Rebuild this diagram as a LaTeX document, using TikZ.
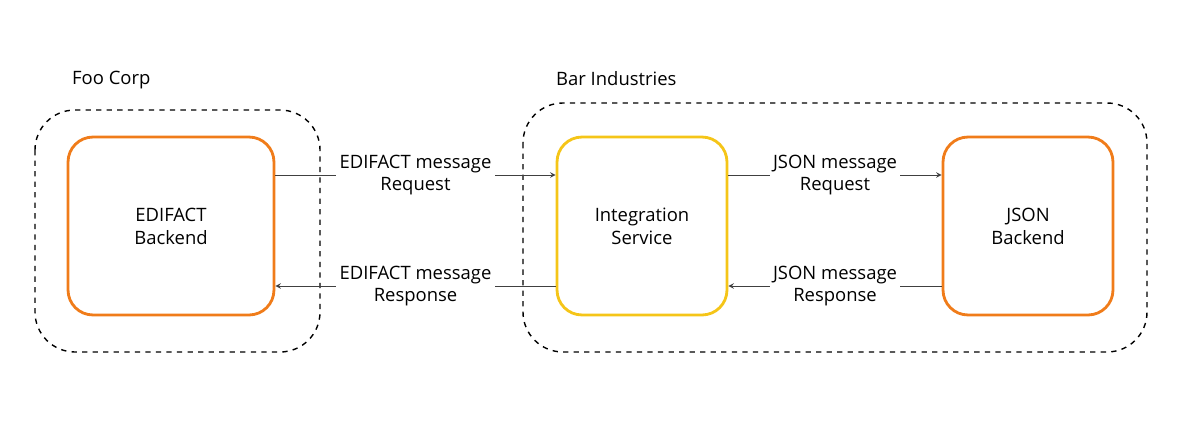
\documentclass[tikz,border=0pt]{standalone}
\usepackage{fontspec}
\setmainfont{Open Sans}
\usetikzlibrary{positioning}
\definecolor{orng}{HTML}{F07C1A}
\definecolor{yllw}{HTML}{F5C518}
\tikzset{
  zone/.style={draw, dashed, thick, rounded corners=0.8cm},
  system/.style={draw=#1, line width=1.6pt, rounded corners=0.5cm, align=center, minimum width=3.4cm, minimum height=3.56cm},
  msg/.style={fill=white, align=center, inner sep=2pt, font=\fontsize{10.5}{13}\selectfont},
  flow/.style={->, >=stealth, draw=black!75}
}
\begin{document}
\begin{tikzpicture}[x=0.02cm,y=-0.02cm, font=\fontsize{10.5}{13}\selectfont]
                \useasboundingbox (0,0) rectangle (1200,440);
                \draw[zone] (35,110) rectangle (320,352);
                \draw[zone] (523,103) rectangle (1147,352);
                \node[anchor=west] (foo) at (66,80) {Foo Corp};
                \node[anchor=west] (bar) at (550,79) {Bar Industries};
                \node[system=orng, minimum width=4.12cm] (edi) at (171,226) {EDIFACT\\Backend};
                \node[system=yllw] (int) at (642,226) {Integration\\Service};
                \node[system=orng] (json) at (1028,226) {JSON\\Backend};
                \draw[flow] (edi.east |- 0,175) -- (int.west |- 0,175) node[msg, midway] (q1) {EDIFACT message\\Request};
                \draw[flow] (int.west |- 0,286) -- (edi.east |- 0,286) node[msg, midway] (r1) {EDIFACT message\\Response};
                \draw[flow] (int.east |- 0,175) -- (json.west |- 0,175) node[msg, midway] (q2) {JSON message\\Request};
                \draw[flow] (json.west |- 0,286) -- (int.east |- 0,286) node[msg, midway] (r2) {JSON message\\Response};
\end{tikzpicture}
\end{document}
